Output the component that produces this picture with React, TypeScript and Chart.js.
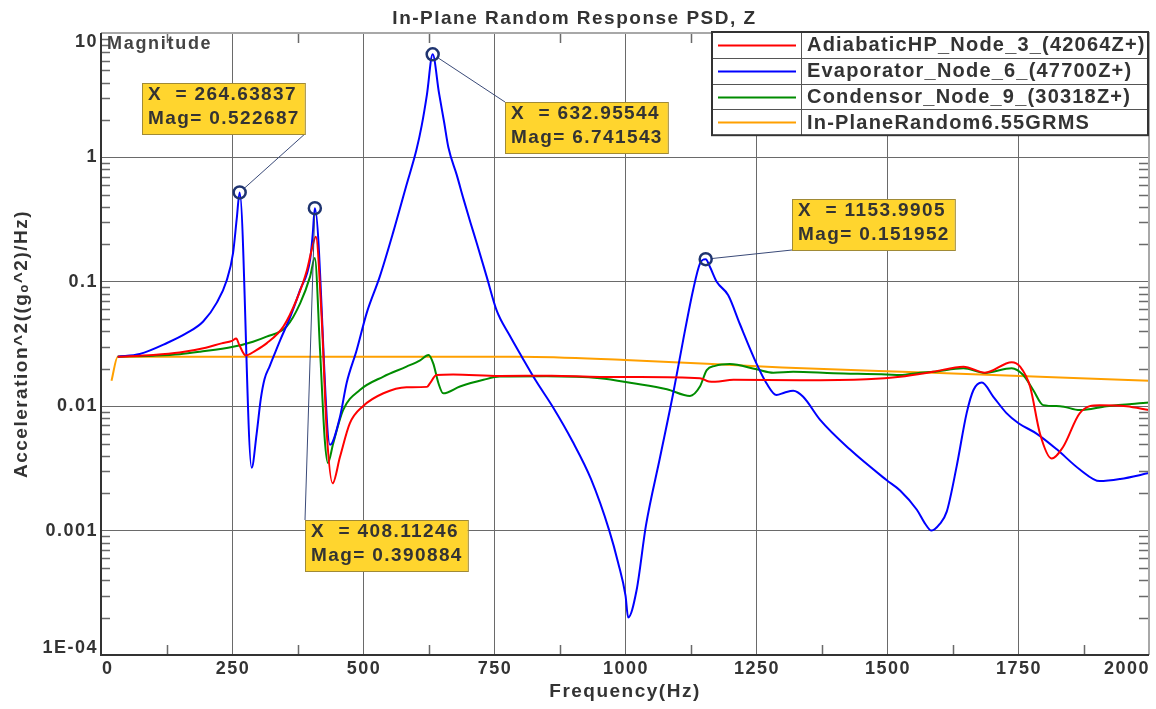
import React, { useEffect, useRef } from 'react';
import { Chart, registerables } from 'chart.js';

Chart.register(...registerables);

const FONT = "'Liberation Sans', Arial, Helvetica, sans-serif";
const TEXT_COLOR = '#333333';

const TITLE = 'In-Plane Random Response PSD, Z';
const X_TITLE = 'Frequency(Hz)';
const Y_TITLE = 'Acceleration^2((gₒ^2)/Hz)';
const PANEL_LABEL = 'Magnitude';

const X_TICKS = [0, 250, 500, 750, 1000, 1250, 1500, 1750, 2000];
const X_TICK_LABELS = ['0', '250', '500', '750', '1000', '1250', '1500', '1750', '2000'];
const Y_TICKS = [1e-4, 1e-3, 1e-2, 1e-1, 1, 10];
const Y_TICK_LABELS = ['1E-04', '0.001', '0.01', '0.1', '1', '10'];

const SERIES_NAMES = [
  'AdiabaticHP_Node_3_(42064Z+)',
  'Evaporator_Node_6_(47700Z+)',
  'Condensor_Node_9_(30318Z+)',
  'In-PlaneRandom6.55GRMS',
];
const SERIES_COLORS = ['#ff0000', '#0000ff', '#008c00', '#ffa000'];

const ADIABATIC_X = [32, 100, 150, 200, 230, 250, 258, 264, 276, 295, 316, 348, 373, 393, 402, 410, 421, 431, 442, 456, 475, 500, 539, 583, 622, 628, 640, 672, 761, 860, 952, 1029, 1143, 1160, 1172, 1207, 1334, 1461, 1525, 1588, 1646, 1687, 1738, 1754, 1773, 1792, 1814, 1836, 1868, 1906, 1957, 2000];
const ADIABATIC_Y = [0.025, 0.0258, 0.027, 0.0295, 0.032, 0.0335, 0.035, 0.031, 0.0256, 0.028, 0.032, 0.0436, 0.0714, 0.124, 0.18, 0.23, 0.0525, 0.006, 0.0024, 0.0039, 0.0073, 0.01, 0.0127, 0.0142, 0.0143, 0.0153, 0.0178, 0.018, 0.0175, 0.0176, 0.0172, 0.0172, 0.0168, 0.0158, 0.0157, 0.0163, 0.0162, 0.0165, 0.01725, 0.0189, 0.0208, 0.0186, 0.0226, 0.0208, 0.0144, 0.006, 0.0038, 0.0047, 0.0088, 0.0102, 0.01, 0.0093];

const EVAPORATOR_X = [32, 74, 126, 164, 195, 221, 240, 252, 259, 264.63837, 287.5, 297, 305, 312, 322, 342, 361, 380, 399, 404, 408.11246, 437, 456, 469, 488, 507, 532, 557, 583, 602, 612, 622, 632.95544, 645, 655, 663, 679, 692, 705, 717, 736, 755, 780, 803, 830, 862, 900, 935, 970, 987, 1001, 1006, 1022, 1040, 1067, 1092, 1111, 1130, 1143, 1153.9905, 1162, 1175, 1197, 1219, 1251, 1270, 1289, 1305, 1321, 1340, 1372, 1429, 1499, 1525, 1557, 1572, 1585, 1600, 1614, 1633, 1652, 1665, 1681, 1703, 1728, 1751, 1786, 1824, 1868, 1906, 1945, 2000];
const EVAPORATOR_Y = [0.025, 0.0263, 0.0322, 0.0388, 0.048, 0.068, 0.103, 0.17, 0.32, 0.522687, 0.0032, 0.006, 0.0115, 0.0165, 0.021, 0.034, 0.052, 0.086, 0.15, 0.24, 0.390884, 0.0049, 0.0082, 0.0155, 0.0283, 0.056, 0.11, 0.245, 0.6, 1.15, 1.8, 3.2, 6.741543, 3.3, 1.9, 1.2, 0.72, 0.46, 0.3, 0.205, 0.11, 0.059, 0.037, 0.025, 0.016, 0.0099, 0.0052, 0.0026, 0.001, 0.00055, 0.0003, 0.0002, 0.00033, 0.0011, 0.0039, 0.0127, 0.034, 0.086, 0.14, 0.151952, 0.132, 0.1, 0.078, 0.046, 0.022, 0.0153, 0.0123, 0.0129, 0.0133, 0.0119, 0.0078, 0.0045, 0.00255, 0.0021, 0.00147, 0.00115, 0.001, 0.00112, 0.00142, 0.0033, 0.0088, 0.0135, 0.0155, 0.0119, 0.0088, 0.0073, 0.006, 0.0045, 0.0031, 0.0025, 0.0026, 0.0029];

const CONDENSOR_X = [32, 100, 150, 189, 252, 290, 316, 354, 380, 399, 408, 418, 427, 433, 443, 462, 494, 539, 583, 609, 625, 634, 644, 653, 685, 730, 761, 850, 952, 1016, 1080, 1124, 1143, 1156, 1172, 1200, 1251, 1283, 1321, 1398, 1499, 1525, 1563, 1588, 1646, 1687, 1738, 1760, 1779, 1798, 1830, 1868, 1919, 2000];
const CONDENSOR_Y = [0.025, 0.0255, 0.0262, 0.0274, 0.03, 0.033, 0.0362, 0.0436, 0.067, 0.11, 0.155, 0.0283, 0.0054, 0.0035, 0.005, 0.0093, 0.0135, 0.0173, 0.0208, 0.0234, 0.0258, 0.0221, 0.0153, 0.0127, 0.0144, 0.0163, 0.0173, 0.0174, 0.0168, 0.0153, 0.0137, 0.0121, 0.0144, 0.0195, 0.0211, 0.0218, 0.0198, 0.0186, 0.0189, 0.0184, 0.018, 0.0178, 0.0186, 0.0189, 0.0202, 0.0185, 0.0202, 0.0178, 0.0135, 0.0102, 0.01, 0.0093, 0.01, 0.0107];

const PROFILE_X = [20, 32, 800, 1000, 1300, 1600, 2000];
const PROFILE_Y = [0.016, 0.025, 0.025, 0.0235, 0.0205, 0.0185, 0.016];

const MARKER_X = [264.63837, 408.11246, 632.95544, 1153.9905];
const MARKER_MAG = [0.522687, 0.390884, 6.741543, 0.151952];

// callout box placement relative to the marked point (pixels)
const CALLOUT_PLACEMENT = [
  { dx: -98, dy: -109, corner: 'br' },
  { dx: -10, dy: 312, corner: 'tl' },
  { dx: 72, dy: 48, corner: 'tl' },
  { dx: 86, dy: -60, corner: 'bl' },
];

function pairs(xs: number[], ys: number[]) {
  return xs.map((x, i) => ({ x, y: ys[i] }));
}

const SERIES_DATA = [
  pairs(ADIABATIC_X, ADIABATIC_Y),
  pairs(EVAPORATOR_X, EVAPORATOR_Y),
  pairs(CONDENSOR_X, CONDENSOR_Y),
  pairs(PROFILE_X, PROFILE_Y),
];

const decorPlugin = {
  id: 'psdDecor',
  beforeDraw(chart: any) {
    const ctx = chart.ctx;
    ctx.save();
    ctx.fillStyle = '#ffffff';
    ctx.fillRect(0, 0, chart.width, chart.height);
    ctx.restore();
    ctx.letterSpacing = '1.5px';
  },
  afterDraw(chart: any) {
    const { ctx, chartArea: a, scales } = chart;
    const xs = scales.x;
    const ys = scales.y;
    ctx.save();

    // minor ticks
    ctx.strokeStyle = '#6a6a6a';
    ctx.lineWidth = 1.5;
    ctx.beginPath();
    for (let d = 0; d < Y_TICKS.length - 1; d++) {
      for (let k = 2; k <= 9; k++) {
        const py = Math.round(ys.getPixelForValue(Y_TICKS[d] * k)) + 0.5;
        ctx.moveTo(a.left, py);
        ctx.lineTo(a.left + 9, py);
        ctx.moveTo(a.right - 10, py);
        ctx.lineTo(a.right, py);
      }
    }
    for (let i = 0; i < X_TICKS.length - 1; i++) {
      const px = Math.round(xs.getPixelForValue((X_TICKS[i] + X_TICKS[i + 1]) / 2)) + 0.5;
      ctx.moveTo(px, a.bottom);
      ctx.lineTo(px, a.bottom - 10);
      ctx.moveTo(px, a.top);
      ctx.lineTo(px, a.top + 10);
    }
    ctx.stroke();

    // frame
    ctx.lineWidth = 2;
    ctx.strokeStyle = '#a8a8a8';
    ctx.beginPath();
    ctx.moveTo(a.left, a.top);
    ctx.lineTo(a.right, a.top);
    ctx.lineTo(a.right, a.bottom);
    ctx.stroke();
    ctx.strokeStyle = '#333333';
    ctx.beginPath();
    ctx.moveTo(a.left, a.top);
    ctx.lineTo(a.left, a.bottom);
    ctx.lineTo(a.right, a.bottom);
    ctx.stroke();

    // tick labels
    ctx.fillStyle = TEXT_COLOR;
    ctx.font = `bold 18px ${FONT}`;
    ctx.letterSpacing = '1.5px';
    ctx.textBaseline = 'middle';
    ctx.textAlign = 'right';
    Y_TICKS.forEach((v, i) => {
      let py = ys.getPixelForValue(v);
      py = Math.min(Math.max(py, a.top + 9), a.bottom - 7);
      ctx.fillText(Y_TICK_LABELS[i], a.left - 3, py);
    });
    X_TICKS.forEach((v, i) => {
      const px = xs.getPixelForValue(v);
      if (i === 0) {
        ctx.textAlign = 'left';
      } else if (i === X_TICKS.length - 1) {
        ctx.textAlign = 'right';
      } else {
        ctx.textAlign = 'center';
      }
      ctx.fillText(X_TICK_LABELS[i], px + 1, a.bottom + 14);
    });

    // panel label
    ctx.font = `bold 18px ${FONT}`;
    ctx.letterSpacing = '1.7px';
    ctx.textAlign = 'left';
    ctx.fillStyle = '#444444';
    ctx.fillText(PANEL_LABEL, a.left + 6, a.top + 11);

    // callouts
    ctx.font = `bold 19px ${FONT}`;
    ctx.letterSpacing = '1.4px';
    MARKER_X.forEach((mx, i) => {
      const px = xs.getPixelForValue(mx);
      const py = ys.getPixelForValue(MARKER_MAG[i]);
      const l1 = `X  = ${String(mx)}`;
      const l2 = `Mag= ${String(MARKER_MAG[i])}`;
      const w = Math.max(ctx.measureText(l1).width, ctx.measureText(l2).width) + 11;
      const h = 51;
      const p = CALLOUT_PLACEMENT[i];
      const bx = Math.round(px + p.dx);
      const by = Math.round(py + p.dy);
      const cx = p.corner === 'br' ? bx + w : bx;
      const cy = p.corner === 'tl' ? by : by + h;
      const ang = Math.atan2(cy - py, cx - px);
      ctx.strokeStyle = '#3a4a78';
      ctx.lineWidth = 1;
      ctx.beginPath();
      ctx.moveTo(px + Math.cos(ang) * 6, py + Math.sin(ang) * 6);
      ctx.lineTo(cx, cy);
      ctx.stroke();
      ctx.strokeStyle = '#1f3470';
      ctx.lineWidth = 2.5;
      ctx.beginPath();
      ctx.arc(px, py, 6, 0, Math.PI * 2);
      ctx.stroke();
      ctx.fillStyle = '#ffd52e';
      ctx.fillRect(bx, by, w, h);
      ctx.strokeStyle = '#a08a36';
      ctx.lineWidth = 1;
      ctx.strokeRect(bx + 0.5, by + 0.5, w, h);
      ctx.fillStyle = TEXT_COLOR;
      ctx.textAlign = 'left';
      ctx.textBaseline = 'middle';
      ctx.fillText(l1, bx + 6, by + 12);
      ctx.fillText(l2, bx + 6, by + 36);
    });

    // legend table
    const ds = chart.data.datasets;
    const rowH = 25.8;
    const lw = 436;
    const lx = a.right - lw - 1;
    const ly = a.top - 1;
    const lh = rowH * ds.length;
    ctx.fillStyle = '#ffffff';
    ctx.fillRect(lx, ly, lw, lh);
    ctx.strokeStyle = '#555555';
    ctx.lineWidth = 1;
    ctx.beginPath();
    for (let r = 1; r < ds.length; r++) {
      const yy = Math.round(ly + r * rowH) + 0.5;
      ctx.moveTo(lx, yy);
      ctx.lineTo(lx + lw, yy);
    }
    ctx.moveTo(lx + 89.5, ly);
    ctx.lineTo(lx + 89.5, ly + lh);
    ctx.stroke();
    ctx.strokeStyle = '#333333';
    ctx.lineWidth = 2;
    ctx.strokeRect(lx, ly, lw, lh);
    ctx.font = `bold 20px ${FONT}`;
    ctx.letterSpacing = '1.2px';
    ctx.textAlign = 'left';
    ctx.textBaseline = 'middle';
    ds.forEach((d: any, r: number) => {
      const cy = ly + r * rowH + rowH / 2;
      ctx.strokeStyle = d.borderColor;
      ctx.lineWidth = 2;
      ctx.beginPath();
      ctx.moveTo(lx + 6, Math.round(cy) + 0.5);
      ctx.lineTo(lx + 84, Math.round(cy) + 0.5);
      ctx.stroke();
      ctx.fillStyle = TEXT_COLOR;
      ctx.fillText(d.label, lx + 95, cy + 1);
    });

    ctx.restore();
  },
};

export default function App() {
  const canvasRef = useRef<HTMLCanvasElement | null>(null);

  useEffect(() => {
    document.body.style.margin = '0';
    const canvas = canvasRef.current;
    if (!canvas) return;
    const axisTitleFont = { family: FONT, size: 19, weight: 'bold' as const };
    const chart = new Chart(canvas, {
      type: 'line',
      data: {
        datasets: SERIES_NAMES.map((name, i) => ({
          label: name,
          data: SERIES_DATA[i],
          borderColor: SERIES_COLORS[i],
          backgroundColor: SERIES_COLORS[i],
          borderWidth: 2,
          pointRadius: 0,
          fill: false,
          cubicInterpolationMode: 'monotone',
        })),
      },
      options: {
        responsive: false,
        animation: false,
        devicePixelRatio: 1,
        layout: { padding: { left: 0, right: 7, top: 0, bottom: 0 } },
        plugins: {
          legend: { display: false },
          tooltip: { enabled: false },
          title: {
            display: true,
            text: TITLE,
            color: TEXT_COLOR,
            font: { family: FONT, size: 19, weight: 'bold' },
            padding: { top: 7, bottom: 3.2 },
          },
        },
        scales: {
          x: {
            type: 'linear',
            min: 0,
            max: 2000,
            afterBuildTicks: (s: any) => {
              s.ticks = X_TICKS.map((v) => ({ value: v }));
            },
            ticks: { display: false },
            grid: { color: '#6a6a6a', lineWidth: 1, drawTicks: false },
            border: { display: false },
            title: {
              display: true,
              text: X_TITLE,
              color: TEXT_COLOR,
              font: axisTitleFont,
              padding: { top: 0, bottom: 6 },
            },
            afterFit: (s: any) => {
              s.height = 54;
            },
          },
          y: {
            type: 'logarithmic',
            min: 1e-4,
            max: 10,
            afterBuildTicks: (s: any) => {
              s.ticks = Y_TICKS.map((v) => ({ value: v }));
            },
            ticks: { display: false },
            grid: { color: '#6a6a6a', lineWidth: 1, drawTicks: false },
            border: { display: false },
            title: {
              display: true,
              text: Y_TITLE,
              color: TEXT_COLOR,
              font: axisTitleFont,
              padding: { top: 10, bottom: 0 },
            },
            afterFit: (s: any) => {
              s.width = 101;
            },
          },
        },
      } as any,
      plugins: [decorPlugin as any],
    });
    return () => chart.destroy();
  }, []);

  return (
    <div style={{ width: 1156, height: 709, position: 'relative' }}>
      <canvas ref={canvasRef} width={1156} height={709} style={{ display: 'block' }} />
    </div>
  );
}
